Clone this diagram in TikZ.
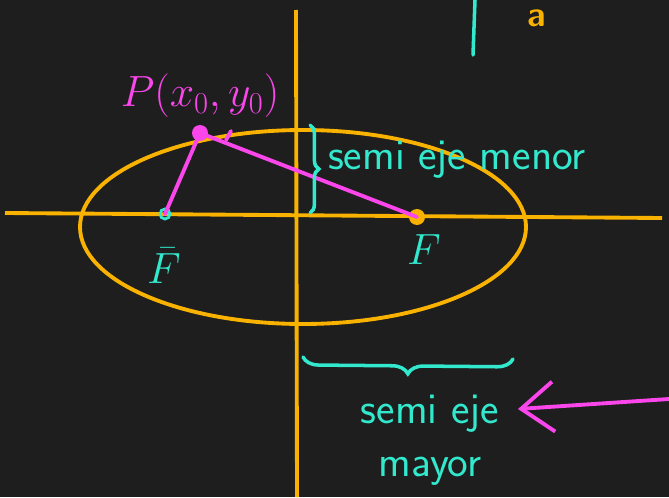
\documentclass[tikz,border=0pt]{standalone}
\usepackage{tikz}
\usetikzlibrary{arrows.meta,decorations.pathreplacing,positioning}
\definecolor{board}{RGB}{30,30,30}
\definecolor{chalkorange}{RGB}{250,178,0}
\definecolor{chalkpink}{RGB}{250,70,235}
\definecolor{chalkcyan}{RGB}{50,232,205}

\begin{document}
\begin{tikzpicture}[x=0.02cm, y=-0.02cm,
    axis/.style={chalkorange, line width=2.2pt},
    seg/.style={chalkpink, line width=2.2pt, line cap=round},
    chalk/.style={chalkcyan, line width=2pt, line cap=round},
    label/.style={font=\sffamily\fontsize{25}{30}\selectfont, text=chalkcyan, align=center, inner sep=1pt},
    bracecyan/.style={chalk, decorate, decoration={brace, amplitude=#1}}
]
% board
\fill[board] (0,0) rectangle (669,497);
\useasboundingbox (0,0) rectangle (669,497);

% axes and ellipse
\draw[axis] (5,213) -- (662,218);
\draw[axis] (296,10) -- (297,497);
\draw[axis] (303,227) ellipse [x radius=223, y radius=97];

% foci and point
\node[circle, draw=chalkcyan, line width=1.6pt, inner sep=0pt, minimum size=0.2cm] (Fbar) at (165,214) {};
\node[circle, fill=chalkorange, inner sep=0pt, minimum size=0.32cm] (F) at (417,217) {};
\node[circle, fill=chalkpink, inner sep=0pt, minimum size=0.32cm] (P) at (200,133) {};
\draw[seg] (P.center) -- (Fbar.center);
\draw[seg] (P.center) -- (F.center);
\draw[seg] (226,140) -- (231,131);

% labels
\node[text=chalkpink, font=\fontsize{23}{27}\selectfont] (Plabel) at (200,96) {$P(x_0,y_0)$};
\node[label] (Fbarlabel) at (164,266) {$\bar{F}$};
\node[label] (Flabel) at (424,250) {$F$};
\node[label, anchor=west] (menor) at (326,160) {semi eje menor};
\node[label] (mayor) at (430,440) {semi eje\\mayor};
\node[text=chalkorange, font=\sffamily\bfseries\fontsize{20}{22}\selectfont] (a) at (537,18) {a};

% braces
\coordinate (menortop) at (310,125);
\coordinate (menorbot) at (310,213);
\draw[bracecyan=5pt] (menortop) -- (menorbot);
\coordinate (mayorleft) at (303,357);
\coordinate (mayorright) at (513,359);
\draw[bracecyan=9pt] (mayorright) -- (mayorleft);

% arrow to the text
\coordinate (arrtail) at (669,399);
\coordinate (arrtip) at (518,409);
\draw[seg, -{Straight Barb[length=0.65cm, width=1cm]}] (arrtail) -- (arrtip);

% stroke at the top
\draw[chalk] (475,0) -- (473,55);
\end{tikzpicture}
\end{document}
